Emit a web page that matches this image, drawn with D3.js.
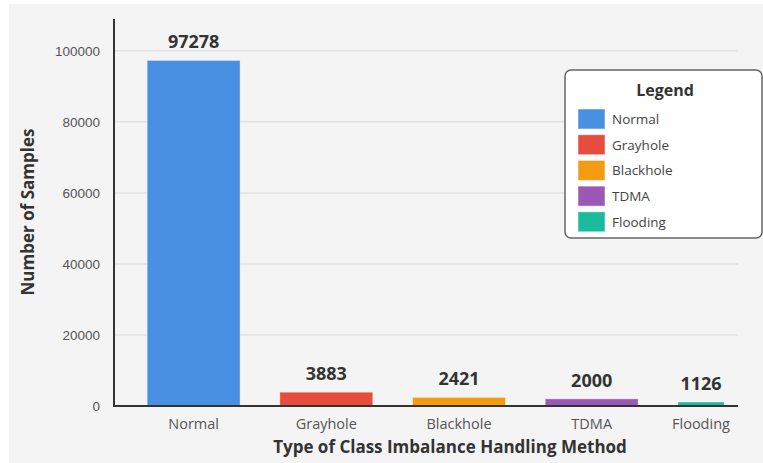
<!DOCTYPE html>
<html>
<head>
<meta charset="utf-8">
<script src="https://cdn.jsdelivr.net/npm/d3@7"></script>
<style>
  html, body { margin: 0; padding: 0; background: #ffffff; }
  svg { display: block; font-family: "Open Sans", "Noto Sans", sans-serif; }
</style>
</head>
<body>
<svg id="chart" width="763" height="463"></svg>
<script>
// Sample counts per traffic class
const categories = ["Normal", "Grayhole", "Blackhole", "TDMA", "Flooding"];
const counts = [97278, 3883, 2421, 2000, 1126];
const colors = ["#4a90e2", "#e74c3c", "#f39c12", "#9b59b6", "#1abc9c"];
const yTicks = [0, 20000, 40000, 60000, 80000, 100000];

const svg = d3.select("#chart");

// panel background
svg.append("rect")
  .attr("x", 9).attr("y", 4).attr("width", 754).attr("height", 459)
  .attr("fill", "#f4f4f4");

const plotLeft = 114, plotBottom = 406, plotTop = 19;
const axisRight = 738, clipRight = 724;

const x = d3.scaleBand()
  .domain(categories)
  .range([plotLeft, 804])
  .paddingInner(0.3)
  .paddingOuter(0.25);

const y = d3.scaleLinear()
  .domain([0, d3.max(counts) * 1.12])
  .range([plotBottom, plotTop]);

// horizontal grid
svg.append("g")
  .selectAll("line")
  .data(yTicks.filter(t => t > 0))
  .join("line")
  .attr("x1", plotLeft).attr("x2", axisRight)
  .attr("y1", d => y(d)).attr("y2", d => y(d))
  .attr("stroke", "#e2e2e2").attr("stroke-width", 1.5);

// y tick labels
const yAxis = svg.append("g")
  .attr("transform", `translate(${plotLeft},0)`)
  .call(d3.axisLeft(y).tickValues(yTicks).tickSize(0).tickPadding(14).tickFormat(d3.format("d")));
yAxis.select(".domain").remove();
yAxis.selectAll("text")
  .attr("fill", "#555").style("font-size", "13.5px");

// bars, clipped to the plotting area
svg.append("defs").append("clipPath").attr("id", "plot-clip")
  .append("rect").attr("x", plotLeft).attr("y", 0)
  .attr("width", clipRight - plotLeft).attr("height", plotBottom + 1);

const data = categories.map((c, i) => ({ name: c, value: counts[i], color: colors[i] }));
const visCenter = d => {
  const x0 = x(d.name), x1 = Math.min(x0 + x.bandwidth(), clipRight);
  return (x0 + x1) / 2;
};

svg.append("g").attr("clip-path", "url(#plot-clip)")
  .selectAll("rect")
  .data(data)
  .join("rect")
  .attr("x", d => x(d.name))
  .attr("y", d => y(d.value))
  .attr("width", x.bandwidth())
  .attr("height", d => plotBottom - y(d.value))
  .attr("fill", d => d.color)
  .attr("stroke", "rgba(255,255,255,0.35)")
  .attr("stroke-width", 1);

// value labels
svg.append("g")
  .selectAll("text")
  .data(data)
  .join("text")
  .attr("x", visCenter)
  .attr("y", d => y(d.value) - 12)
  .attr("text-anchor", "middle")
  .attr("fill", "#333")
  .style("font-size", "18px").style("font-weight", "bold")
  .text(d => d.value);

// category labels
svg.append("g")
  .selectAll("text")
  .data(data)
  .join("text")
  .attr("x", visCenter)
  .attr("y", 429)
  .attr("text-anchor", "middle")
  .attr("fill", "#555")
  .style("font-size", "14.5px")
  .text(d => d.name);

// axis lines
svg.append("line")
  .attr("x1", plotLeft).attr("x2", plotLeft).attr("y1", plotTop).attr("y2", plotBottom + 1)
  .attr("stroke", "#333").attr("stroke-width", 2);
svg.append("line")
  .attr("x1", plotLeft - 1).attr("x2", axisRight).attr("y1", plotBottom).attr("y2", plotBottom)
  .attr("stroke", "#333").attr("stroke-width", 2);

// axis titles
svg.append("text")
  .attr("x", 450).attr("y", 453)
  .attr("text-anchor", "middle").attr("fill", "#333")
  .style("font-size", "17px").style("font-weight", "bold")
  .text("Type of Class Imbalance Handling Method");
svg.append("text")
  .attr("transform", "translate(34,212) rotate(-90)")
  .attr("text-anchor", "middle").attr("fill", "#333")
  .style("font-size", "17px").style("font-weight", "bold")
  .text("Number of Samples");

// legend
const lg = svg.append("g").attr("transform", "translate(565,70)");
lg.append("rect")
  .attr("width", 197).attr("height", 168).attr("rx", 6)
  .attr("fill", "#fff").attr("stroke", "#666").attr("stroke-width", 1.5);
lg.append("text")
  .attr("x", 100).attr("y", 26).attr("text-anchor", "middle").attr("fill", "#333")
  .style("font-size", "16px").style("font-weight", "bold").text("Legend");
const items = lg.selectAll("g.item").data(data).join("g")
  .attr("class", "item")
  .attr("transform", (d, i) => `translate(13,${39 + i * 25.7})`);
items.append("rect")
  .attr("width", 27).attr("height", 20)
  .attr("fill", d => d.color)
  .attr("stroke", "rgba(255,255,255,0.5)").attr("stroke-width", 1);
items.append("text")
  .attr("x", 34).attr("y", 15)
  .attr("fill", "#444").style("font-size", "13.5px")
  .text(d => d.name);
</script>
</body>
</html>
